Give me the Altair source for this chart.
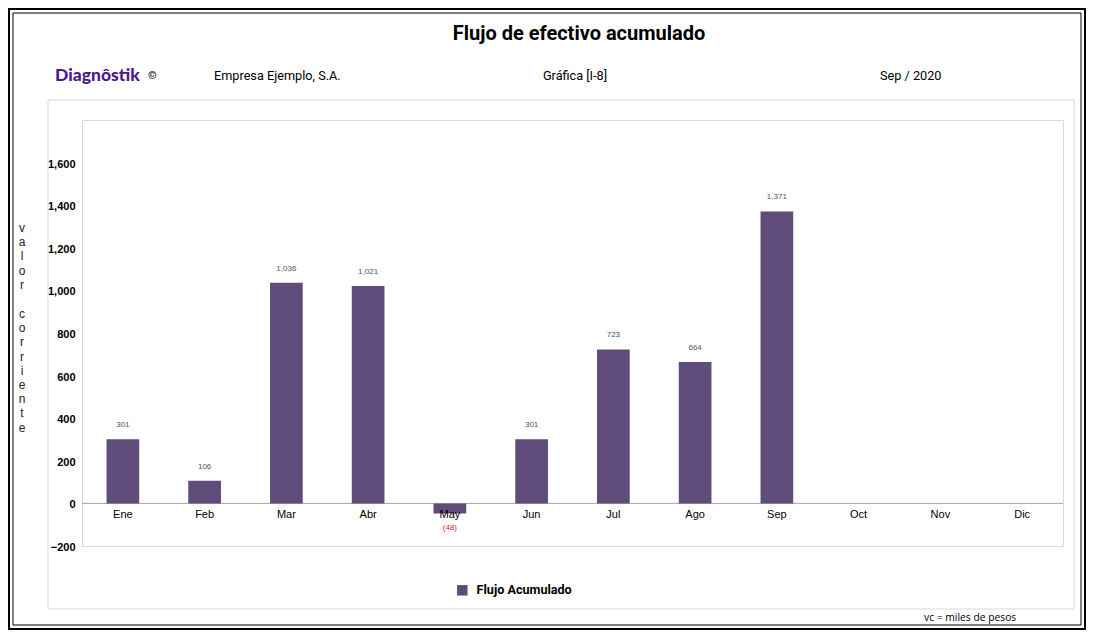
import altair as alt
import pandas as pd

# ---- data ----
meses = ["Ene", "Feb", "Mar", "Abr", "May", "Jun", "Jul", "Ago", "Sep", "Oct", "Nov", "Dic"]
valores = [301, 106, 1036, 1021, -48, 301, 723, 664, 1371, None, None, None]
serie = "Flujo Acumulado"
y_ticks = [-200, 0, 200, 400, 600, 800, 1000, 1200, 1400, 1600]

titulo = "Flujo de efectivo acumulado"
marca = "Diagnôstik"
empresa = "Empresa Ejemplo, S.A."
grafica = "Gráfica [I-8]"
periodo = "Sep / 2020"
eje_y_1 = "valor"
eje_y_2 = "corriente"
nota = "vc =  miles de pesos"

df = pd.DataFrame({"mes": meses, "valor": valores, "serie": serie})

BAR = "#604c7a"
AX_FONT = "Liberation Sans"
HDR_FONT = "Roboto"

xenc = alt.X("mes:N", scale=alt.Scale(domain=meses, paddingInner=0.6, paddingOuter=0.3), axis=None)
yscale = alt.Scale(domain=[-200, 1800], nice=False)

base = alt.Chart(df)

bars = base.mark_bar(color=BAR).encode(
    x=xenc,
    y=alt.Y("valor:Q", scale=yscale, title=None,
            axis=alt.Axis(values=y_ticks, format=",.0f", grid=False, domain=False, ticks=False,
                          labelFont=AX_FONT, labelFontSize=11, labelFontWeight="bold",
                          labelColor="#000000", labelPadding=7, labelOffset=1.5)),
    color=alt.Color("serie:N", scale=alt.Scale(range=[BAR]),
                    legend=alt.Legend(orient="none", legendX=374, legendY=464, title=None,
                                      symbolType="square", symbolSize=110, symbolStrokeWidth=0,
                                      labelFont=HDR_FONT, labelFontSize=12.6, labelFontWeight="bold",
                                      labelColor="#000000", labelOffset=8)),
).transform_filter("isValid(datum.valor)")

zero = alt.Chart(pd.DataFrame({"z": [0]})).mark_rule(color="#a6a6a6", strokeWidth=1).encode(
    y=alt.Y("z:Q", scale=yscale)
)

pos_labels = base.transform_filter("isValid(datum.valor) && datum.valor >= 0").transform_calculate(
    lab="format(datum.valor, ',')"
).mark_text(dy=-14, font=AX_FONT, fontSize=8, color="#44546a", baseline="middle").encode(
    x=xenc, y=alt.Y("valor:Q", scale=yscale), text="lab:N"
)

neg_labels = base.transform_filter("isValid(datum.valor) && datum.valor < 0").transform_calculate(
    lab="'(' + format(-datum.valor, ',') + ')'"
).mark_text(dy=14, font=AX_FONT, fontSize=8, color="#e02020", baseline="middle").encode(
    x=xenc, y=alt.Y("valor:Q", scale=yscale), text="lab:N"
)

month_labels = base.transform_calculate(z="0").mark_text(
    dy=12, font=AX_FONT, fontSize=11, color="#000000", baseline="middle"
).encode(x=xenc, y=alt.Y("z:Q", scale=yscale), text="mes:N")


def txt(s, x, y, **kw):
    return alt.Chart(alt.Data(values=[{"t": s}])).mark_text(**kw).encode(
        x=alt.value(x), y=alt.value(y), text="t:N"
    )


def vtxt(s, x, y, **kw):
    # stacked letters (one per line)
    return alt.Chart(alt.Data(values=[{"t": s}])).transform_calculate(
        v="join(split(datum.t, ''), '|')"
    ).mark_text(lineBreak="|", **kw).encode(
        x=alt.value(x), y=alt.value(y), text="v:N"
    )


def box(x, x2, y, y2, **kw):
    return alt.Chart(alt.Data(values=[{"t": 1}])).mark_rect(fill="transparent", **kw).encode(
        x=alt.value(x), x2=alt.value(x2), y=alt.value(y), y2=alt.value(y2)
    )


deco = [
    box(-73, 1003, -111, 509, stroke="#000000", strokeWidth=2),
    box(-69, 999, -107, 505, stroke="#000000", strokeWidth=1),
    box(-34, 992, -20, 489, stroke="#d9d9d9", strokeWidth=1),
    txt(titulo, 497, -86, font=HDR_FONT, fontSize=20, fontWeight="bold", color="#000000",
        align="center", baseline="middle"),
    txt(marca, -27, -44, font="Lato", fontSize=17.5, fontWeight=900, color="#4b1a8c",
        align="left", baseline="middle"),
    txt("©", 66, -44, font=HDR_FONT, fontSize=11, fontWeight="bold", color="#000000",
        align="left", baseline="middle"),
    txt(empresa, 132, -44, font=HDR_FONT, fontSize=12.7, color="#000000",
        align="left", baseline="middle"),
    txt(grafica, 493, -44, font=HDR_FONT, fontSize=12.7, color="#000000",
        align="center", baseline="middle"),
    txt(periodo, 798, -44, font=HDR_FONT, fontSize=12.7, color="#000000",
        align="left", baseline="middle"),
    vtxt(eje_y_1, -60, 108, font=AX_FONT, fontSize=12, color="#222222", lineHeight=14.2,
         align="center", baseline="middle"),
    vtxt(eje_y_2, -60, 194, font=AX_FONT, fontSize=12, color="#222222", lineHeight=14.2,
         align="center", baseline="middle"),
    txt(nota, 842, 498, font="Open Sans", fontSize=10.3, color="#000000",
        align="left", baseline="middle"),
]

chart = alt.layer(*deco, zero, bars, pos_labels, neg_labels, month_labels).properties(
    width=981,
    height=426,
    autosize=alt.AutoSizeParams(type="none"),
    padding={"left": 74, "top": 112, "right": 23, "bottom": 84},
    background="#ffffff",
).configure_view(stroke="#d9d9d9", strokeWidth=1)

chart.save("out.html", embed_options={"renderer": "svg", "actions": False})
